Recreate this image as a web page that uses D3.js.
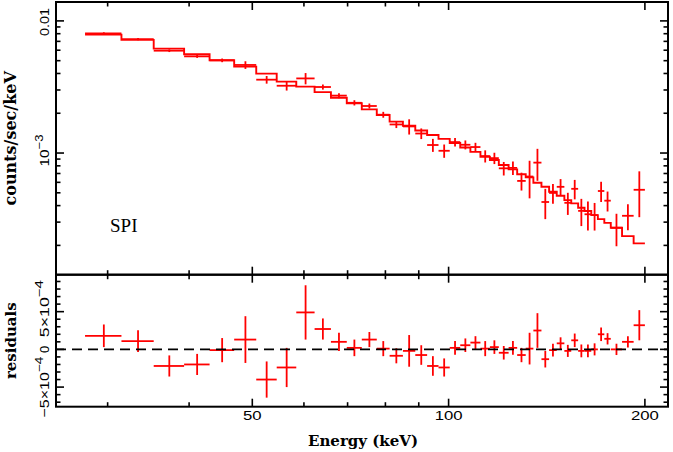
<!DOCTYPE html>
<html>
<head>
<meta charset="utf-8">
<script src="https://cdn.jsdelivr.net/npm/d3@7"></script>
<style>
  html, body { margin: 0; padding: 0; background: #fff; }
  svg { display: block; }
</style>
</head>
<body>
<svg id="chart" width="673" height="452"></svg>
<script>
// ---- data ----
const binLo = [27.7, 31.5, 35.3, 39.3, 43.0, 46.9, 50.7, 54.5, 58.4, 62.3, 66.0, 69.8, 73.6, 77.6,
  81.2, 85.1, 88.9, 92.7, 96.5, 100.4, 104.2, 108.0, 111.9, 115.7, 119.4, 123.6, 127.4, 131.3,
  134.9, 138.8, 142.6, 146.5, 150.5, 154.2, 158.0, 161.6, 165.5, 169.4, 173.3, 177.3, 184.5, 192.2];
const binHi = [31.5, 35.3, 39.3, 43.0, 46.9, 50.7, 54.5, 58.4, 62.3, 66.0, 69.8, 73.6, 77.6, 81.2,
  85.1, 88.9, 92.7, 96.5, 100.4, 104.2, 108.0, 111.9, 115.7, 119.4, 123.6, 127.4, 131.3, 134.9,
  138.8, 142.6, 146.5, 150.5, 154.2, 158.0, 161.6, 165.5, 169.4, 173.3, 177.3, 184.5, 192.2, 200.0];
// observed counts/sec/keV
const rate = [8.05e-3, 7.29e-3, 5.95e-3, 5.39e-3, 5.03e-3, 4.64e-3, 3.59e-3, 3.23e-3, 3.67e-3, 3.16e-3,
  2.72e-3, 2.40e-3, 2.27e-3, 1.95e-3, 1.645e-3, 1.59e-3, 1.405e-3, 1.15e-3, 1.04e-3, 1.21e-3,
  1.155e-3, 1.11e-3, 9.48e-4, 9.15e-4, 7.66e-4, 7.72e-4, 6.15e-4, 6.64e-4, 8.46e-4, 4.26e-4,
  4.99e-4, 5.55e-4, 4.20e-4, 5.36e-4, 3.65e-4, 3.44e-4, 3.39e-4, 5.16e-4, 4.36e-4, 2.72e-4,
  3.35e-4, 5.27e-4];
// 1-sigma errors (counts/sec/keV)
const rateErr = [1.5e-4, 1.45e-4, 1.4e-4, 1.4e-4, 1.6e-4, 3.1e-4, 2.4e-4, 2.6e-4, 3.6e-4, 1.4e-4,
  1.2e-4, 1.1e-4, 1.0e-4, 1.0e-4, 1.0e-4, 2.1e-4, 1.3e-4, 1.3e-4, 1.2e-4, 0.9e-4,
  0.9e-4, 0.85e-4, 1.0e-4, 0.9e-4, 0.9e-4, 0.9e-4, 0.95e-4, 2.1e-4, 2.3e-4, 1.1e-4,
  0.85e-4, 0.8e-4, 0.8e-4, 0.9e-4, 0.85e-4, 0.85e-4, 0.8e-4, 0.9e-4, 0.75e-4, 0.75e-4,
  0.75e-4, 2.0e-4];
// folded model
const model = [7.87e-3, 7.18e-3, 6.17e-3, 5.59e-3, 5.04e-3, 4.51e-3, 3.99e-3, 3.47e-3, 3.18e-3, 2.89e-3,
  2.62e-3, 2.38e-3, 2.14e-3, 1.94e-3, 1.73e-3, 1.61e-3, 1.48e-3, 1.37e-3, 1.28e-3, 1.19e-3,
  1.10e-3, 1.02e-3, 9.38e-4, 8.85e-4, 8.11e-4, 7.52e-4, 6.90e-4, 6.54e-4, 5.96e-4, 5.56e-4,
  5.09e-4, 4.75e-4, 4.40e-4, 4.16e-4, 3.85e-4, 3.64e-4, 3.39e-4, 3.16e-4, 2.96e-4, 2.72e-4,
  2.35e-4, 2.07e-4];
// residuals (data - model)
const resid = [1.8e-4, 1.1e-4, -2.2e-4, -2.0e-4, -0.1e-4, 1.3e-4, -4.0e-4, -2.4e-4, 4.9e-4, 2.7e-4,
  1.0e-4, 0.2e-4, 1.3e-4, 0.1e-4, -0.85e-4, -0.2e-4, -0.75e-4, -2.2e-4, -2.4e-4, 0.2e-4,
  0.55e-4, 0.9e-4, 0.1e-4, 0.3e-4, -0.45e-4, 0.2e-4, -0.75e-4, 0.1e-4, 2.5e-4, -1.3e-4,
  -0.1e-4, 0.8e-4, -0.2e-4, 1.2e-4, -0.2e-4, -0.2e-4, 0.0, 2.0e-4, 1.4e-4, 0.0,
  1.0e-4, 3.2e-4];

const xMajor = [50, 100, 200];
const xMinor = [30, 40, 60, 70, 80, 90];
const xTickLabels = ["50", "100", "200"];
const yTopMajor = [1e-3, 1e-2];
const yTopMinor = [2e-4, 3e-4, 4e-4, 5e-4, 6e-4, 7e-4, 8e-4, 9e-4,
  2e-3, 3e-3, 4e-3, 5e-3, 6e-3, 7e-3, 8e-3, 9e-3];
const yResMajor = [-5e-4, 0, 5e-4];
const yResMinor = [-7e-4, -6e-4, -4e-4, -3e-4, -2e-4, -1e-4, 1e-4, 2e-4, 3e-4, 4e-4, 6e-4, 7e-4, 8e-4, 9e-4];

// ---- layout ----
const L = 56, R = 668, T1 = 2, B1 = 274.7, T2 = 274.7, B2 = 406.7;
const RED = "#ff0000";
const svg = d3.select("#chart");

const x = d3.scaleLog().domain([25, 217]).range([L, R]);
const yTop = d3.scaleLog().domain([1.2e-4, 0.0139]).range([B1, T1]);
const yRes = d3.scaleLinear().domain([-7.6e-4, 9.9e-4]).range([B2, T2]);

const bins = binLo.map((lo, i) => ({
  lo, hi: binHi[i], c: (lo + binHi[i]) / 2,
  v: rate[i], e: rateErr[i], m: model[i], r: resid[i]
}));

// ---- top panel: data crosses ----
const gTop = svg.append("g");
gTop.selectAll("line.h").data(bins).join("line")
  .attr("x1", d => x(d.lo)).attr("x2", d => x(d.hi))
  .attr("y1", d => yTop(d.v)).attr("y2", d => yTop(d.v))
  .attr("stroke", RED).attr("stroke-width", 1.8);
gTop.selectAll("line.v").data(bins).join("line")
  .attr("x1", d => x(d.c)).attr("x2", d => x(d.c))
  .attr("y1", d => yTop(d.v - d.e)).attr("y2", d => yTop(d.v + d.e))
  .attr("stroke", RED).attr("stroke-width", 1.8);

// model step line
const stepPts = [];
bins.forEach(d => { stepPts.push([d.lo, d.m]); stepPts.push([d.hi, d.m]); });
gTop.append("path")
  .attr("d", d3.line().x(p => x(p[0])).y(p => yTop(p[1]))(stepPts))
  .attr("fill", "none").attr("stroke", RED).attr("stroke-width", 1.9);

// ---- residual panel ----
const gRes = svg.append("g");
gRes.selectAll("line.h").data(bins).join("line")
  .attr("x1", d => x(d.lo)).attr("x2", d => x(d.hi))
  .attr("y1", d => yRes(d.r)).attr("y2", d => yRes(d.r))
  .attr("stroke", RED).attr("stroke-width", 1.8);
gRes.selectAll("line.v").data(bins).join("line")
  .attr("x1", d => x(d.c)).attr("x2", d => x(d.c))
  .attr("y1", d => yRes(d.r - d.e)).attr("y2", d => yRes(d.r + d.e))
  .attr("stroke", RED).attr("stroke-width", 1.8);
gRes.append("line")
  .attr("x1", L).attr("x2", R).attr("y1", yRes(0)).attr("y2", yRes(0))
  .attr("stroke", "#000").attr("stroke-width", 1.8).attr("stroke-dasharray", "10,6");

// ---- frames & ticks ----
const gAx = svg.append("g").attr("stroke", "#000").attr("stroke-width", 1.6);
function frame(top, bottom) {
  gAx.append("rect").attr("x", L).attr("y", top).attr("width", R - L).attr("height", bottom - top)
    .attr("fill", "none").attr("stroke-width", 2);
}
frame(T1, B1); frame(T2, B2);
const MAJ = 8, MIN = 4.5;
function xTicks(top, bottom) {
  xMajor.forEach(v => {
    gAx.append("line").attr("x1", x(v)).attr("x2", x(v)).attr("y1", top).attr("y2", top + MAJ);
    gAx.append("line").attr("x1", x(v)).attr("x2", x(v)).attr("y1", bottom).attr("y2", bottom - MAJ);
  });
  xMinor.forEach(v => {
    gAx.append("line").attr("x1", x(v)).attr("x2", x(v)).attr("y1", top).attr("y2", top + MIN);
    gAx.append("line").attr("x1", x(v)).attr("x2", x(v)).attr("y1", bottom).attr("y2", bottom - MIN);
  });
}
xTicks(T1, B1); xTicks(T2, B2);
function yTicks(scale, major, minor) {
  major.forEach(v => {
    gAx.append("line").attr("x1", L).attr("x2", L + MAJ).attr("y1", scale(v)).attr("y2", scale(v));
    gAx.append("line").attr("x1", R).attr("x2", R - MAJ).attr("y1", scale(v)).attr("y2", scale(v));
  });
  minor.forEach(v => {
    gAx.append("line").attr("x1", L).attr("x2", L + MIN).attr("y1", scale(v)).attr("y2", scale(v));
    gAx.append("line").attr("x1", R).attr("x2", R - MIN).attr("y1", scale(v)).attr("y2", scale(v));
  });
}
yTicks(yTop, yTopMajor, yTopMinor);
yTicks(yRes, yResMajor, yResMinor);

// ---- tick labels ----
const tickFont = "'Liberation Sans', Arial, sans-serif";
const gLab = svg.append("g").attr("font-family", tickFont).attr("fill", "#000");
xMajor.forEach((v, i) => {
  const s = xTickLabels[i];
  gLab.append("text").attr("x", x(v)).attr("y", 420).attr("text-anchor", "middle")
    .attr("font-size", 12.5).attr("textLength", s.length * 9.3).attr("lengthAdjust", "spacingAndGlyphs")
    .text(s);
});
function yLabel(yPos, base, sup, len) {
  const t = gLab.append("text")
    .attr("transform", `translate(49,${yPos}) rotate(-90)`)
    .attr("text-anchor", "middle").attr("font-size", 13);
  t.append("tspan").text(base);
  if (sup) t.append("tspan").attr("dy", -6).attr("font-size", 11).text(sup);
  if (len) t.attr("textLength", len).attr("lengthAdjust", "spacingAndGlyphs");
  return t;
}
yLabel(yTop(1e-2) + 1, "0.01", null, 28);
yLabel(yTop(1e-3) - 2.5, "10", "\u22123", 32);
yLabel(yRes(-5e-4), "\u22125\u00d710", "\u22124", 61);
yLabel(yRes(0), "0", null, null);
yLabel(yRes(5e-4) - 3, "5\u00d710", "\u22124", 57);

// ---- axis titles ----
const titleFont = "'DejaVu Serif', serif";
svg.append("text").attr("x", (L + R) / 2 + 1).attr("y", 446).attr("text-anchor", "middle")
  .attr("font-family", titleFont).attr("font-weight", "bold").attr("font-size", 15)
  .text("Energy (keV)");
svg.append("text").attr("transform", `translate(16,${(T1 + B1) / 2}) rotate(-90)`)
  .attr("text-anchor", "middle").attr("font-family", titleFont).attr("font-weight", "bold")
  .attr("font-size", 16).text("counts/sec/keV");
svg.append("text").attr("transform", `translate(16,${(T2 + B2) / 2}) rotate(-90)`)
  .attr("text-anchor", "middle").attr("font-family", titleFont).attr("font-weight", "bold")
  .attr("font-size", 15).text("residuals");
svg.append("text").attr("x", 110).attr("y", 232)
  .attr("font-family", "'Liberation Serif', 'Times New Roman', serif").attr("font-size", 19)
  .text("SPI");
</script>
</body>
</html>
